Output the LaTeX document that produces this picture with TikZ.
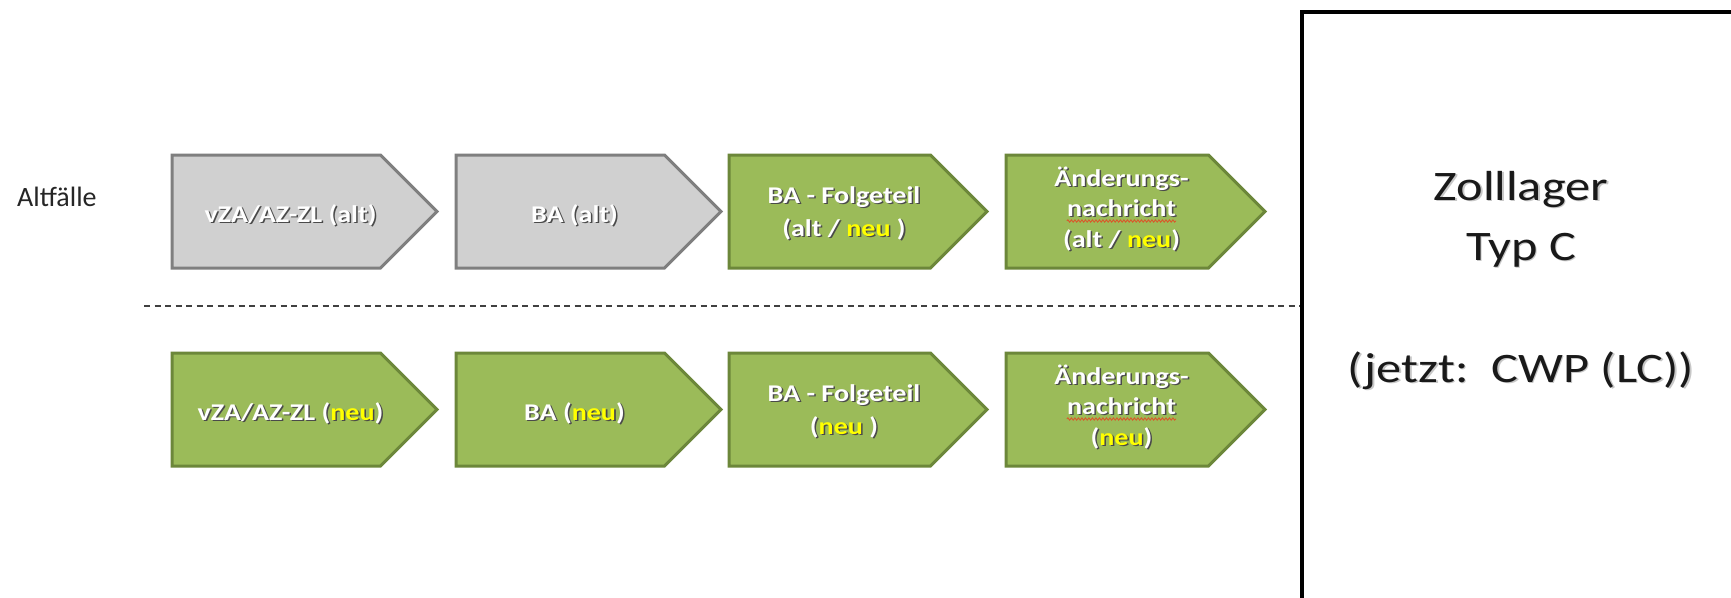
\documentclass[tikz,border=0pt]{standalone}
\usepackage{fontspec}
\setmainfont{Carlito}
\newfontfamily\shapefont{Carlito}[FakeStretch=1.17]
\newfontfamily\zfont{Carlito}[FakeStretch=1.2]
\usetikzlibrary{decorations.pathmorphing}
\definecolor{grayfill}{HTML}{D0D0D0}
\definecolor{graydraw}{HTML}{7F7F7F}
\definecolor{greenfill}{HTML}{9BBB59}
\definecolor{greendraw}{HTML}{6C873A}
\definecolor{neuyellow}{HTML}{FFFF00}
\definecolor{shadowc}{HTML}{4A4A4A}
\definecolor{wavyred}{HTML}{D9582B}
\newcommand\hl[1]{\textcolor{neuyellow}{#1}}
\tikzset{
 grayarrow/.style={fill=grayfill, draw=graydraw, line width=3pt},
 greenarrow/.style={fill=greenfill, draw=greendraw, line width=3pt},
 stxt/.style={text=white, font=\shapefont\bfseries\fontsize{24}{30}\selectfont, inner sep=0pt, anchor=base},
 shtxt/.style={stxt, text=shadowc, execute at begin node={\let\hl\relax}},
 sep/.style={draw=black!75, line width=1.5pt, dash pattern=on 6pt off 4.5pt},
 zbox/.style={draw=black, line width=4pt},
 ztxt/.style={font=\zfont\fontsize{42}{52}\selectfont, text=black!90, inner sep=0pt, anchor=base},
 zsh/.style={ztxt, text=black!22},
 wavy/.style={draw=wavyred, line width=0.9pt, decorate, decoration={snake, amplitude=1.1pt, segment length=3.5pt}},
}
% #1 name, #2 left, #3 top, #4 width, #5 style  -> coordinate #1 = text axis at top
\newcommand\chev[5]{%
  \draw[#5] (#2,#3) -- ({#2+#4-56.5},#3) -- ({#2+#4},{#3+56.5}) -- ({#2+#4-56.5},{#3+113}) -- (#2,{#3+113}) -- cycle;
  \coordinate (#1) at ({#2+#4/2-14},#3);}
% #1 name, #2 reference coordinate, #3 baseline offset, #4 text
\newcommand\sline[4]{%
  \node[shtxt] (#1s) at ([shift={(1.5,{#3+1.5})}]#2) {#4};
  \node[stxt] (#1) at ([shift={(0,#3)}]#2) {#4};}
\newcommand\ztext[3]{%
  \node[zsh] (#1s) at ([shift={(1.5,1.5)}]#2) {#3};
  \node[ztxt] (#1) at (#2) {#3};}
\begin{document}
\begin{tikzpicture}[x=1pt,y=-1pt]
\useasboundingbox (0,0) rectangle (1731,597);
\clip (0,0) rectangle (1731,597);
\fill[white] (0,0) rectangle (1731,597);

\node[anchor=base west, inner sep=0pt, font=\fontsize{28}{34}\selectfont, text=black!85] (alt) at (17,206) {Altfälle};

% row 1
\chev{c11}{172}{155}{265}{grayarrow}
\chev{c12}{456}{155}{265}{grayarrow}
\chev{c13}{729}{155}{258}{greenarrow}
\chev{c14}{1006}{155}{259}{greenarrow}
\sline{t11}{c11}{67}{vZA/AZ-ZL (alt)}
\sline{t12}{c12}{67}{BA (alt)}
\sline{t131}{c13}{48}{BA - Folgeteil}
\sline{t132}{c13}{81}{(alt / \hl{neu} )}
\sline{t141}{c14}{31}{Änderungs-}
\sline{t142}{c14}{61}{nachricht}
\sline{t143}{c14}{92}{(alt / \hl{neu})}
\draw[wavy] ([yshift=-5pt]t142.base west) -- ([yshift=-5pt]t142.base east);

% separator
\coordinate (d1) at (144,306);
\coordinate (d2) at (1300,306);
\draw[sep] (d1) -- (d2);

% row 2
\chev{c21}{172}{353}{265}{greenarrow}
\chev{c22}{456}{353}{265}{greenarrow}
\chev{c23}{729}{353}{258}{greenarrow}
\chev{c24}{1006}{353}{259}{greenarrow}
\sline{t21}{c21}{67}{vZA/AZ-ZL (\hl{neu})}
\sline{t22}{c22}{67}{BA (\hl{neu})}
\sline{t231}{c23}{48}{BA - Folgeteil}
\sline{t232}{c23}{81}{(\hl{neu} )}
\sline{t241}{c24}{31}{Änderungs-}
\sline{t242}{c24}{61}{nachricht}
\sline{t243}{c24}{92}{(\hl{neu})}
\draw[wavy] ([yshift=-5pt]t242.base west) -- ([yshift=-5pt]t242.base east);

% Zolllager box
\coordinate (b1) at (1302,640);
\coordinate (b2) at (1302,12);
\coordinate (b3) at (1780,12);
\draw[zbox] (b1) -- (b2) -- (b3);
\coordinate (z1) at (1521,200);
\coordinate (z2) at (1521,260);
\coordinate (z3) at (1521,382);
\ztext{zl1}{z1}{Zolllager}
\ztext{zl2}{z2}{Typ C}
\ztext{zl3}{z3}{(jetzt:\ \ CWP (LC))}
\end{tikzpicture}
\end{document}
